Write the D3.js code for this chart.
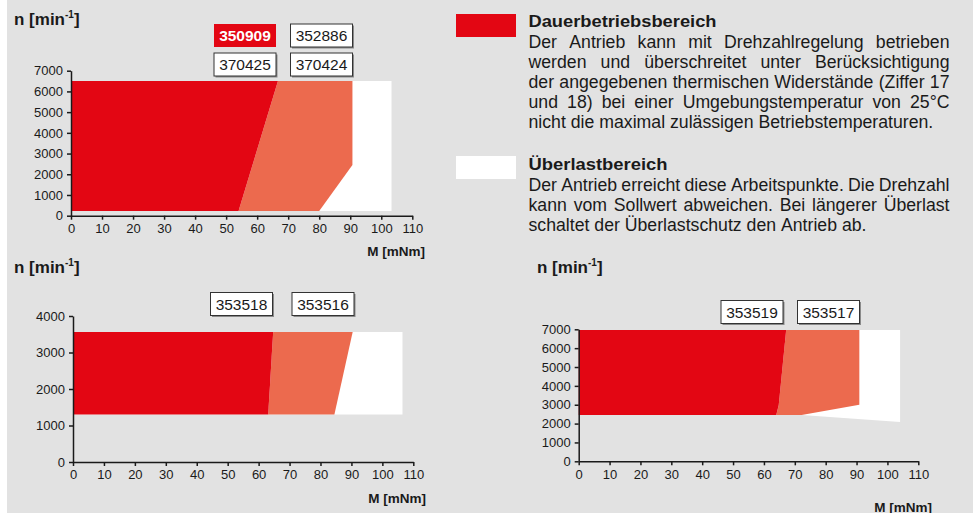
<!DOCTYPE html>
<html>
<head>
<meta charset="utf-8">
<script src="https://cdn.jsdelivr.net/npm/d3@7"></script>
<style>
  body { margin: 0; background: #fff; }
  svg text { font-family: "Liberation Sans", Arial, sans-serif; fill: #1a1a1a; }
</style>
</head>
<body>
<svg id="chart" width="973" height="513"></svg>
<script>
// torque M [mNm] / speed n [min-1], polygons
var xTicks = [0, 10, 20, 30, 40, 50, 60, 70, 80, 90, 100, 110];
var yTicks1 = [0, 1000, 2000, 3000, 4000, 5000, 6000, 7000];
var yTicks2 = [0, 1000, 2000, 3000, 4000];
var yTicks3 = [0, 1000, 2000, 3000, 4000, 5000, 6000, 7000];

var white1 = [[0, 230], [0, 6500], [103.3, 6500], [103.3, 230]];
var orange1 = [[54, 230], [66.7, 6500], [90.7, 6500], [90.7, 2450], [80, 230]];
var red1 = [[0, 230], [0, 6500], [66.7, 6500], [54, 230]];

var white2 = [[0, 1300], [0, 3560], [106.5, 3560], [106.5, 1300]];
var orange2 = [[63.1, 1300], [64.7, 3560], [90.4, 3560], [84.5, 1300]];
var red2 = [[0, 1300], [0, 3560], [64.7, 3560], [63.1, 1300]];

var white3 = [[0, 2450], [0, 6960], [104.1, 6960], [104.1, 2080], [72.2, 2450]];
var orange3 = [[64, 2450], [64.8, 2990], [67.2, 6960], [90.9, 6960], [90.9, 3000], [72.2, 2450]];
var red3 = [[0, 2450], [0, 6960], [67.2, 6960], [64.8, 2990], [64, 2450]];

var labels1 = [["350909", "370425"], ["352886", "370424"]];
var labels2 = [["353518"], ["353516"]];
var labels3 = [["353519"], ["353517"]];

var legendTitles = ["Dauerbetriebsbereich", "Überlastbereich"];
var legendLines = [
  ["Der Antrieb kann mit Drehzahlregelung betrieben",
   "werden und überschreitet unter Berücksichtigung",
   "der angegebenen thermischen Widerstände (Ziffer 17",
   "und 18) bei einer Umgebungstemperatur von 25°C",
   "nicht die maximal zulässigen Betriebstemperaturen."],
  ["Der Antrieb erreicht diese Arbeitspunkte. Die Drehzahl",
   "kann vom Sollwert abweichen. Bei längerer Überlast",
   "schaltet der Überlastschutz den Antrieb ab."]
];

var RED = "#e30613", ORANGE = "#ec6a4e", BG = "#e2e2e2";

var svg = d3.select("#chart");
svg.append("rect").attr("x", 7).attr("y", 0).attr("width", 966).attr("height", 513).attr("fill", BG);

function drawChart(c) {
  var x = d3.scaleLinear().domain([0, 110]).range([c.x0, c.x1]);
  var y = d3.scaleLinear().domain([0, c.yMax]).range([c.y0, c.y1]);
  var g = svg.append("g");

  var line = d3.line()
    .x(function(d) { return x(d[0]) })
    .y(function(d) { return y(d[1]) });

  [[c.white, "#fff"], [c.orange, ORANGE], [c.red, RED]].forEach(function(p) {
    g.append("path").attr("d", line(p[0]) + "Z").attr("fill", p[1]);
  });

  var xa = g.append("g")
    .attr("transform", "translate(0," + c.y0 + ")")
    .call(d3.axisBottom(x).tickValues(xTicks).tickSize(4).tickPadding(4).tickSizeOuter(0));
  var ya = g.append("g")
    .attr("transform", "translate(" + c.x0 + ",0)")
    .call(d3.axisLeft(y).tickValues(c.yTicks).tickFormat(d3.format("d"))
      .tickSize(4).tickPadding(4).tickSizeOuter(0));
  [xa, ya].forEach(function(a) {
    a.selectAll("path, line").attr("stroke", "#1a1a1a").attr("stroke-width", 1.5);
    a.selectAll("text").attr("font-size", 13).attr("fill", "#1a1a1a")
      .attr("font-family", "'Liberation Sans', Arial, sans-serif");
  });

  // axis titles
  var t = g.append("text").attr("x", c.tx).attr("y", c.ty)
    .attr("font-size", 17).attr("font-weight", "bold");
  t.append("tspan").text("n [min");
  t.append("tspan").text("-1").attr("font-size", 10).attr("dy", -7);
  t.append("tspan").text("]").attr("dy", 7);

  g.append("text").attr("x", c.mx).attr("y", c.my)
    .attr("text-anchor", "end").attr("font-size", 13.5).attr("font-weight", "bold")
    .text("M [mNm]");

  // product number boxes
  c.labels.forEach(function(col, i) {
    col.forEach(function(lab, j) {
      var bx = c.bx[i], by = c.by + j * 29, w = 62, h = 23;
      var hot = lab === c.hot;
      if (!hot) {
        g.append("rect").attr("x", bx + 1.5).attr("y", by + 1.5).attr("width", w).attr("height", h).attr("fill", "#8a8a8a");
      }
      g.append("rect").attr("x", bx).attr("y", by).attr("width", w).attr("height", h)
        .attr("fill", hot ? RED : "#fff")
        .attr("stroke", hot ? "none" : "#333").attr("stroke-width", 1);
      g.append("text").attr("x", bx + w / 2).attr("y", by + h / 2 + 5.5)
        .attr("text-anchor", "middle").attr("font-size", 15.5)
        .attr("font-weight", hot ? "bold" : "normal")
        .style("fill", hot ? "#fff" : "#1a1a1a")
        .text(lab);
    });
  });
}

drawChart({x0: 71, x1: 412.3, y0: 215.7, y1: 70.7, yMax: 7000, yTicks: yTicks1,
  white: white1, orange: orange1, red: red1, tx: 14, ty: 25, mx: 425, my: 256,
  labels: labels1, bx: [214, 290.5], by: 24, hot: "350909"});
drawChart({x0: 73, x1: 413.3, y0: 462, y1: 316, yMax: 4000, yTicks: yTicks2,
  white: white2, orange: orange2, red: red2, tx: 14, ty: 273, mx: 426, my: 503,
  labels: labels2, bx: [210.5, 292], by: 292.5});
drawChart({x0: 578.7, x1: 918.3, y0: 461.3, y1: 329.3, yMax: 7000, yTicks: yTicks3,
  white: white3, orange: orange3, red: red3, tx: 537, ty: 273, mx: 932, my: 511.5,
  labels: labels3, bx: [721, 797.5], by: 300.5});

// legend
var lg = svg.append("g");
var lx = 528.5, lw = 421;
[[14, RED, 27, 48], [156, "#fff", 170, 191]].forEach(function(s, k) {
  lg.append("rect").attr("x", 456).attr("y", s[0]).attr("width", 60).attr("height", 23).attr("fill", s[1]);
  lg.append("text").attr("x", lx).attr("y", s[2]).attr("font-size", 16).attr("font-weight", "bold")
    .attr("textLength", k === 0 ? 188 : 139).attr("lengthAdjust", "spacingAndGlyphs")
    .text(legendTitles[k]);

  // scale font so the last line of paragraph 1 matches the picture width
  var probe = lg.append("text").attr("font-size", 16).text(legendLines[0][4]);
  var fs = 16 * 405 / probe.node().getComputedTextLength();
  probe.remove();

  var lines = legendLines[k];
  lines.forEach(function(ln, i) {
    var yy = s[3] + i * 20;
    var words = ln.split(" ");
    var last = i === lines.length - 1;
    var nodes = words.map(function(w) {
      return lg.append("text").attr("y", yy).attr("font-size", fs).text(w);
    });
    var widths = nodes.map(function(n) { return n.node().getComputedTextLength() });
    var total = d3.sum(widths);
    var gap = last ? fs * 0.278 : (lw - total) / (words.length - 1);
    var cx = lx;
    nodes.forEach(function(n, j) {
      n.attr("x", cx);
      cx += widths[j] + gap;
    });
  });
});
</script>
</body>
</html>
